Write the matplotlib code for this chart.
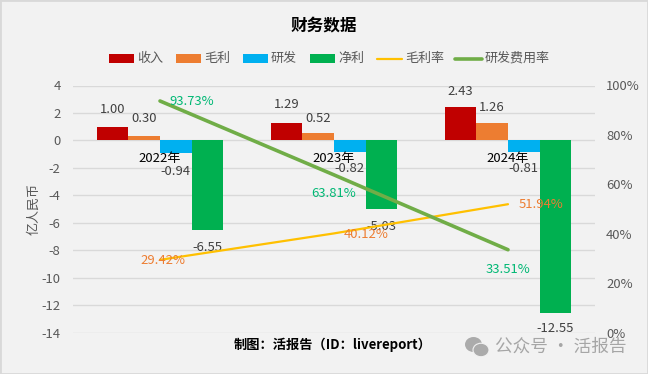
import matplotlib
matplotlib.use('Agg')
import matplotlib.pyplot as plt
from matplotlib.patches import Ellipse, Rectangle
from matplotlib.lines import Line2D

plt.rcParams['font.family'] = ['Noto Sans CJK SC', 'DejaVu Sans']
plt.rcParams['axes.unicode_minus'] = False

years = ['2022年', '2023年', '2024年']
revenue = [1.00, 1.29, 2.43]
gross = [0.30, 0.52, 1.26]
rnd = [-0.94, -0.82, -0.81]
net = [-6.55, -5.03, -12.55]
gross_rate = [29.42, 40.12, 51.94]
rnd_rate = [93.73, 63.81, 33.51]
y_ticks = [4, 2, 0, -2, -4, -6, -8, -10, -12, -14]
y2_ticks = [0, 20, 40, 60, 80, 100]

W, H = 648, 374
BG = '#F2F2F2'
TXT = '#595959'
FS = 9.4
fig = plt.figure(figsize=(W/100, H/100), dpi=100, facecolor=BG)
L, R, T, B = 73, 595, 85.5, 332.5
ax = fig.add_axes([L/W, 1-B/H, (R-L)/W, (B-T)/H])
ax.set_facecolor('none')
ax.set_xlim(-0.5, 2.5)
ax.set_ylim(-14, 4)
ax.set_yticks(y_ticks)
ax.set_xticks([])
for s in ax.spines.values():
    s.set_visible(False)
ax.grid(axis='y', color='#D9D9D9', lw=1)
ax.set_axisbelow(True)
ax.tick_params(axis='y', length=0, labelsize=FS, labelcolor=TXT, pad=9)
ax.set_ylabel('亿人民币', fontsize=FS, color=TXT, labelpad=1)

bw = 0.182
series = [(revenue, '#C00000', -1.5, '收入', [17, 18, 16]),
          (gross, '#ED7D31', -0.5, '毛利', [18, 15, 16]),
          (rnd, '#00B0F0', 0.5, '研发', [-18, -17, -17]),
          (net, '#00B050', 1.5, '净利', [-17, -17, -16])]
for vals, col, k, name, offs in series:
    xs = [i + k*bw for i in range(3)]
    ax.bar(xs, vals, bw, color=col, label=name, zorder=2)
    for x, v, off in zip(xs, vals, offs):
        ax.annotate(f'{v:.2f}', (x, v), xytext=(0, off), textcoords='offset pixels',
                    ha='center', va='center', fontsize=FS, color='#404040', zorder=6)

for i, y in enumerate(years):
    ax.annotate(y, (i, 0), xytext=(0, -18.5), textcoords='offset pixels',
                ha='center', va='center', fontsize=FS, color='black', zorder=6)

ax2 = ax.twinx()
ax2.set_ylim(0, 100)
ax2.set_yticks(y2_ticks)
ax2.set_yticklabels([f'{t}%' for t in y2_ticks])
ax2.tick_params(axis='y', length=0, labelsize=FS, labelcolor=TXT, pad=8)
for s in ax2.spines.values():
    s.set_visible(False)
ax2.plot(range(3), gross_rate, color='#FFC000', lw=1.6, zorder=3, solid_capstyle='round')
ax2.plot(range(3), rnd_rate, color='#70AD47', lw=2.6, zorder=4, solid_capstyle='round')

for i, (v, o) in enumerate(zip(gross_rate, [(3, -1), (32, -1), (33, 0)])):
    ax2.annotate(f'{v:.2f}%', (i, v), xytext=o, textcoords='offset pixels',
                 ha='center', va='center', fontsize=FS, color='#ED7D31', zorder=7)
for i, (v, o) in enumerate(zip(rnd_rate, [(32, -1), (0, -19), (0, -20)])):
    ax2.annotate(f'{v:.2f}%', (i, v), xytext=o, textcoords='offset pixels',
                 ha='center', va='center', fontsize=FS, color='#00B874', zorder=7)

fig.text(324/W, 1-25/H, '财务数据', ha='center', va='center', fontsize=12, fontweight='bold', color='black')
fig.text(333/W, 1-345/H, '制图：活报告（ID：livereport）', ha='center', va='center', fontsize=9.5, fontweight='bold', color='black')

# legend
items = [(109, 134, 'bar', '#C00000', '收入', 137), (176, 201, 'bar', '#ED7D31', '毛利', 204),
         (243, 268, 'bar', '#00B0F0', '研发', 271), (310, 335, 'bar', '#00B050', '净利', 338),
         (377, 402, 'line', '#FFC000', '毛利率', 405), (455, 482, 'line', '#70AD47', '研发费用率', 485)]
for x0, x1, kind, col, name, tx in items:
    if kind == 'bar':
        fig.add_artist(Rectangle((x0/W, 1-63/H), (x1-x0)/W, 9/H, transform=fig.transFigure, color=col, lw=0))
    else:
        fig.add_artist(Line2D([x0/W, x1/W], [1-58.5/H]*2, transform=fig.transFigure, color=col,
                              lw=1.6 if name == '毛利率' else 2.6, solid_capstyle='round'))
    fig.text(tx/W, 1-58.5/H, name, ha='left', va='center', fontsize=FS, color=TXT)

# watermark
ic = '#ABABAB'
fig.add_artist(Ellipse((473.5/W, 1-344.5/H), 17/W, 15/H, transform=fig.transFigure, fc=ic, ec='none'))
fig.add_artist(Ellipse((481/W, 1-350/H), 16/W, 13.5/H, transform=fig.transFigure, fc=ic, ec=BG, lw=0.8))
fig.text(495/W, 1-347/H, '公众号 · 活报告', ha='left', va='center', fontsize=12.7, color='#A6A6A6')

# outer border
fig.add_artist(Rectangle((0, 0), 1, 1, transform=fig.transFigure, fill=False, ec='#D9D9D9', lw=2))
fig.savefig('out.png', dpi=100, facecolor=BG)
